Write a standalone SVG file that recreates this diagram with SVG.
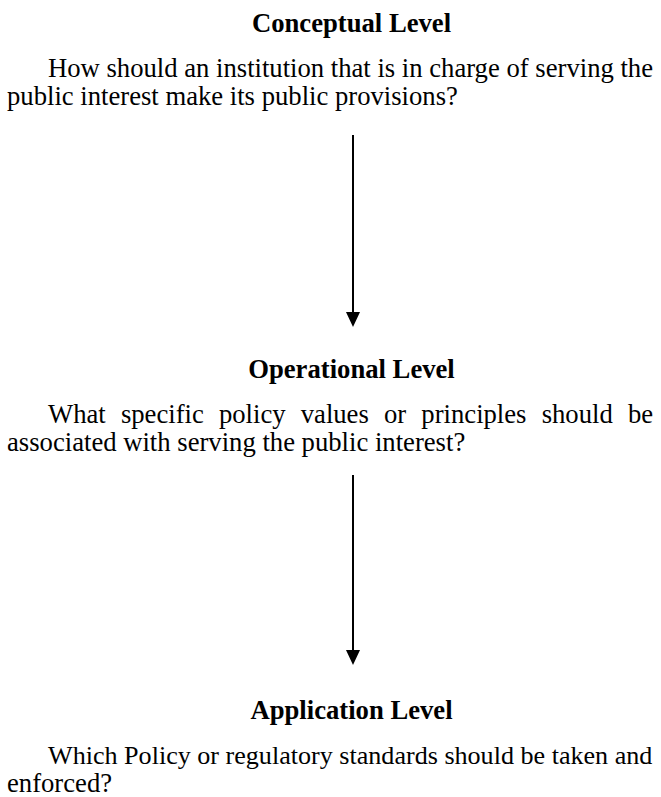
<svg xmlns="http://www.w3.org/2000/svg" width="661" height="797" viewBox="0 0 661 797">
<style>
.t{font-family:"Liberation Serif","Times New Roman",serif;font-size:26.67px;fill:#000}
.h{font-weight:bold;text-anchor:middle}
.c{stroke:#000;stroke-width:2;fill:none}
</style>
<rect width="661" height="797" fill="#fff"/>
<g id="conceptual">
<text class="t h" x="351.5" y="32">Conceptual Level</text>
<text class="t" x="48" y="77" textLength="605" lengthAdjust="spacing">How should an institution that is in charge of serving the</text>
<text class="t" x="7" y="105">public interest make its public provisions?</text>
</g>
<g id="operational">
<text class="t h" x="351.5" y="378">Operational Level</text>
<text class="t" x="48" y="423" word-spacing="8.5">What specific policy values or principles should be</text>
<text class="t" x="7" y="451">associated with serving the public interest?</text>
</g>
<g id="application">
<text class="t h" x="351.5" y="719">Application Level</text>
<text class="t" x="48" y="764" style="font-size:26.1px">Which Policy or regulatory standards should be taken and</text>
<text class="t" x="7" y="792">enforced?</text>
</g>
<g id="connectors">
<line class="c" x1="353" y1="135" x2="353" y2="318"/>
<path d="M346,312L360,312L353,327z"/>
<line class="c" x1="353" y1="475" x2="353" y2="656"/>
<path d="M346,650L360,650L353,665z"/>
</g>
</svg>
